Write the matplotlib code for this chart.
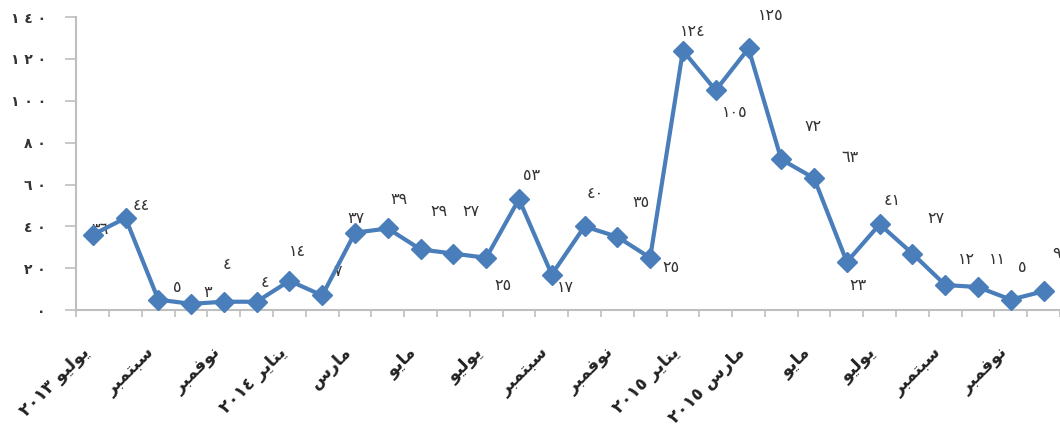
import matplotlib.pyplot as plt
import numpy as np

# monthly counts, July 2013 - December 2015
values = [36, 44, 5, 3, 4, 4, 14, 7, 37, 39, 29, 27, 25, 53, 17,
          40, 35, 25, 124, 105, 125, 72, 63, 23, 41, 27, 12, 11, 5, 9]
tick_labels = ['يوليو ٢٠١٣', 'سبتمبر', 'نوفمبر', 'يناير ٢٠١٤', 'مارس', 'مايو',
               'يوليو', 'سبتمبر', 'نوفمبر', 'يناير ٢٠١٥', 'مارس ٢٠١٥', 'مايو',
               'يوليو', 'سبتمبر', 'نوفمبر']
y_ticks = [0, 20, 40, 60, 80, 100, 120, 140]

# label offsets in points (dx, dy)
label_offsets = [(5, 4), (11, 9), (14, 9), (12, 8), (2, 27), (6, 14), (6, 21),
                 (11, 17), (1, 10), (8, 21), (13, 27), (13, 30), (12, -20),
                 (9, 17), (10, -9), (8, 24), (17, 25), (15, -7), (7, 14),
                 (14, -16), (16, 24), (23, 24), (26, 15), (8, -17), (9, 17),
                 (17, 25), (15, 18), (14, 20), (8, 23), (9, 27)]

EASTERN = str.maketrans('0123456789', '٠١٢٣٤٥٦٧٨٩')

# presentation forms: isolated, final, initial, medial
FORMS = {
    'ا': ('\uFE8D', '\uFE8E'),
    'ب': ('\uFE8F', '\uFE90', '\uFE91', '\uFE92'),
    'ت': ('\uFE95', '\uFE96', '\uFE97', '\uFE98'),
    'ر': ('\uFEAD', '\uFEAE'),
    'س': ('\uFEB1', '\uFEB2', '\uFEB3', '\uFEB4'),
    'ف': ('\uFED1', '\uFED2', '\uFED3', '\uFED4'),
    'ل': ('\uFEDD', '\uFEDE', '\uFEDF', '\uFEE0'),
    'م': ('\uFEE1', '\uFEE2', '\uFEE3', '\uFEE4'),
    'ن': ('\uFEE5', '\uFEE6', '\uFEE7', '\uFEE8'),
    'و': ('\uFEED', '\uFEEE'),
    'ي': ('\uFEF1', '\uFEF2', '\uFEF3', '\uFEF4'),
}


def shape_word(word):
    out = []
    for i, ch in enumerate(word):
        if ch not in FORMS:
            out.append(ch)
            continue
        prev = word[i - 1] if i > 0 else None
        nxt = word[i + 1] if i + 1 < len(word) else None
        joins_prev = prev in FORMS and len(FORMS[prev]) == 4
        joins_next = len(FORMS[ch]) == 4 and nxt in FORMS
        if joins_prev and joins_next:
            out.append(FORMS[ch][3])
        elif joins_prev:
            out.append(FORMS[ch][1])
        elif joins_next:
            out.append(FORMS[ch][2])
        else:
            out.append(FORMS[ch][0])
    return ''.join(reversed(out))


def visual(label):
    parts = label.split(' ')
    word = shape_word(parts[0])
    if len(parts) > 1:
        return parts[1] + ' ' + word
    return word


x = np.arange(len(values))
blue = '#4a7ebb'
grey = '#bfbfbf'

fig, ax = plt.subplots(figsize=(10.6, 4.38), dpi=100)
fig.subplots_adjust(left=0.072, right=1.0, top=0.961, bottom=0.292)

ax.plot(x, values, color=blue, linewidth=3, marker='D', markersize=10,
        markerfacecolor=blue, markeredgecolor=blue, zorder=3, clip_on=False)

for xi, v, (dx, dy) in zip(x, values, label_offsets):
    ax.annotate(str(v).translate(EASTERN), (xi, v), xytext=(dx, dy),
                textcoords='offset points', ha='center', va='center',
                fontsize=11.5, color='#333333', zorder=2, annotation_clip=False)

ax.set_xlim(-0.5, len(values) - 0.5)
ax.set_ylim(0, 140)
ax.set_yticks(y_ticks)
ax.set_yticklabels([' '.join(str(t).translate(EASTERN)) for t in y_ticks],
                   fontsize=10, fontweight='bold', color='#333333')

ax.set_xticks(x[::2])
ax.set_xticklabels([visual(t) for t in tick_labels], rotation=45,
                   ha='right', va='top', fontsize=12.5, fontweight='bold',
                   color='#222222')
ax.tick_params(axis='x', length=0, pad=24)
ax.set_xticks(np.arange(len(values) + 1) - 0.5, minor=True)
ax.tick_params(axis='x', which='minor', length=5, color=grey, width=1.2)
ax.tick_params(axis='y', length=8, color=grey, width=1.2, pad=14)

for side in ('top', 'right'):
    ax.spines[side].set_visible(False)
for side in ('left', 'bottom'):
    ax.spines[side].set_color(grey)
    ax.spines[side].set_linewidth(1.5)

fig.savefig('out.png', dpi=100)
